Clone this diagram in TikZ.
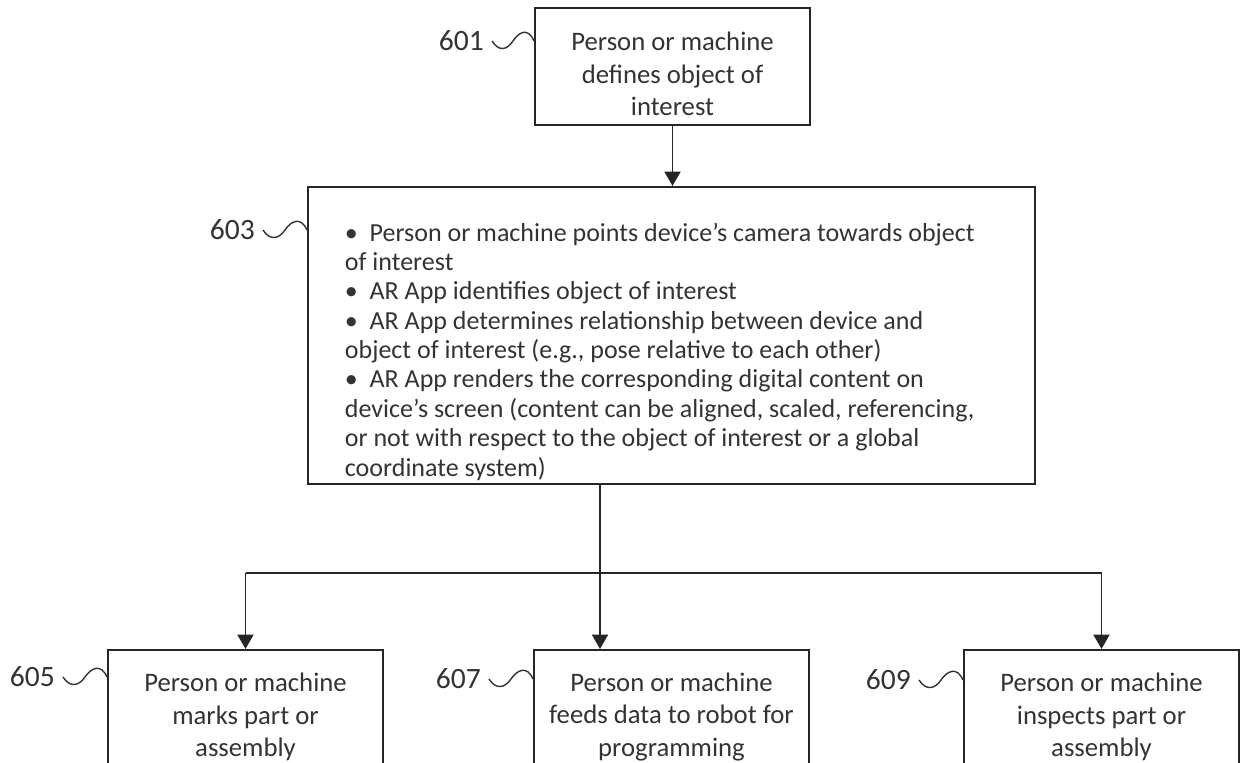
\documentclass[tikz,border=0pt]{standalone}
\usepackage{fontspec}
\setmainfont{Carlito}
\usetikzlibrary{arrows.meta,calc}

% push the text of a box down by half of #1
\newcommand{\dropby}[2]{\raisebox{0pt}[\dimexpr\height+#1\relax]{#2}}

\tikzset{
  box/.style={draw=black!85, line width=1.4pt, text=black!80, inner sep=0pt,
    align=center, font=\fontsize{19pt}{23.1pt}\selectfont},
  refnum/.style={anchor=east, inner xsep=0.2cm, inner ysep=0pt, text=black!80,
    font=\fontsize{21pt}{25pt}\selectfont},
  flow/.style={draw=black!85, line width=1.4pt, -{Triangle[length=0.36cm,width=0.4cm]}},
  bus/.style={draw=black!85, line width=1.4pt},
  squiggle/.style={draw=black!80, line width=1pt,
    to path={.. controls ($(\tikztostart)+(7,11)$) and ($(\tikztostart)!0.5!(\tikztotarget)+(-6,9)$)
      .. ($(\tikztostart)!0.5!(\tikztotarget)$)
      .. controls ($(\tikztostart)!0.5!(\tikztotarget)+(6,-9)$) and ($(\tikztotarget)+(-6,-14)$)
      .. (\tikztotarget)}}
}

\begin{document}
\begin{tikzpicture}[x=0.025cm,y=-0.025cm]
  \useasboundingbox (0,0) rectangle (1244,763);
  \clip (0,0) rectangle (1244,763);

  % boxes
  \node[box, minimum width=6.875cm, minimum height=2.825cm] (b601) at (672.5,66.5)
    {\dropby{0.5cm}{\begin{tabular}{@{}c@{}}Person or machine\\defines object of\\interest\end{tabular}}};
  \node[box, minimum width=18.175cm, minimum height=7.425cm,
    font=\fontsize{18.5pt}{20.9pt}\selectfont] (b603) at (671.5,335.5)
    {\dropby{0.8cm}{\parbox{16.325cm}{\raggedright
     \textbullet\ \ Person or machine points device's camera towards object\\
     of interest\\
     \textbullet\ \ AR App identifies object of interest\\
     \textbullet\ \ AR App determines relationship between device and\\
     object of interest (e.g., pose relative to each other)\\
     \textbullet\ \ AR App renders the corresponding digital content on\\
     device's screen (content can be aligned, scaled, referencing,\\
     or not with respect to the object of interest or a global\\
     coordinate system)}}};
  \node[box, minimum width=6.875cm, minimum height=3.35cm] (b605) at (245.5,717)
    {Person or machine\\marks part or\\assembly};
  \node[box, minimum width=6.875cm, minimum height=3.35cm] (b607) at (671.5,717)
    {Person or machine\\feeds data to robot for\\programming};
  \node[box, minimum width=6.875cm, minimum height=3.35cm] (b609) at (1101.5,717)
    {Person or machine\\inspects part or\\assembly};

  % reference numerals
  \node[refnum] (l601) at (492,41) {601};
  \node[refnum] (l603) at (263,230) {603};
  \node[refnum] (l605) at (63,677) {605};
  \node[refnum] (l607) at (489,679) {607};
  \node[refnum] (l609) at (919,680) {609};

  \foreach \n in {601,603,605,607,609}
    \draw[squiggle] (l\n.east) to (b\n.west |- l\n.east);

  % connectors
  \coordinate (trunk) at (600,573);
  \draw[flow] (b601.south) -- (b603.north -| b601.south);
  \draw[bus] (b605.north |- trunk) -- (b609.north |- trunk);
  \draw[flow] (b605.north |- trunk) -- (b605.north);
  \draw[flow] (b609.north |- trunk) -- (b609.north);
  \draw[flow] (b603.south -| trunk) -- (b607.north -| trunk);
\end{tikzpicture}
\end{document}
